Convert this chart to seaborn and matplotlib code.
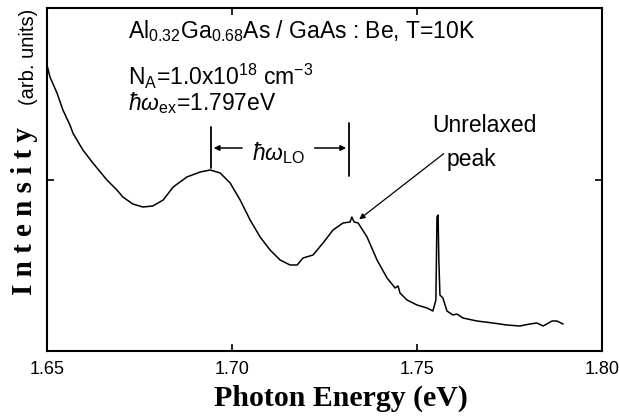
import matplotlib
matplotlib.use('Agg')
import matplotlib.pyplot as plt
import seaborn as sns
import pandas as pd

# Photon energy (eV) and PL intensity (arb. units)
energy = [1.6500, 1.6508, 1.6527, 1.6543, 1.6562, 1.6570, 1.6597, 1.6624, 1.6662, 1.6689,
          1.6705, 1.6732, 1.6759, 1.6786, 1.6814, 1.6841, 1.6878, 1.6914, 1.6941, 1.6968,
          1.6995, 1.7022, 1.7049, 1.7076, 1.7103, 1.7130, 1.7157, 1.7176, 1.7192, 1.7219,
          1.7246, 1.7273, 1.7300, 1.7319, 1.7324, 1.7330, 1.7341, 1.7365, 1.7392, 1.7419,
          1.7441, 1.7449, 1.7454, 1.7473, 1.7500, 1.7527, 1.7543, 1.7551, 1.7554, 1.7557,
          1.7559, 1.7562, 1.7570, 1.7581, 1.7597, 1.7608, 1.7624, 1.7662, 1.7705, 1.7743,
          1.7778, 1.7805, 1.7824, 1.7841, 1.7865, 1.7878, 1.7895]
intensity = [286, 274, 258, 241, 226, 218, 201, 188, 171, 161,
             154, 147, 144, 145, 151, 164, 174, 179, 181, 178,
             168, 151, 131, 114, 101, 91, 86, 86, 93, 96,
             108, 121, 128, 129, 134, 129, 128, 114, 91, 73,
             63, 65, 58, 51, 46, 43, 40, 51, 134, 136,
             91, 56, 53, 40, 36, 37, 33, 30, 28, 26,
             25, 27, 28, 25, 30, 30, 27]

xticks = [1.65, 1.70, 1.75, 1.80]
xticklabels = ['1.65', '1.70', '1.75', '1.80']
yticks = [171]

sns.set_theme(style='ticks')
plt.rcParams.update({
    'font.family': ['Liberation Sans', 'DejaVu Sans'],
    'mathtext.fontset': 'custom',
    'mathtext.rm': 'Liberation Sans',
    'mathtext.it': 'Liberation Sans:italic',
    'mathtext.bf': 'Liberation Sans:bold',
    'mathtext.fallback': 'stix',
    'text.color': 'black',
    'axes.labelcolor': 'black',
    'xtick.color': 'black',
    'ytick.color': 'black',
})

W, H = 619, 419
fig = plt.figure(figsize=(W / 100, H / 100), dpi=100)
fig.patch.set_facecolor('white')
ax = fig.add_axes([47 / W, 1 - 351 / H, (602 - 47) / W, (351 - 8) / H])
ax.set_facecolor('white')

df = pd.DataFrame({'E': energy, 'I': intensity})
sns.lineplot(data=df, x='E', y='I', ax=ax, color='black', lw=1.1,
             estimator=None, sort=False)

ax.set_xlim(1.65, 1.80)
ax.set_ylim(0, 343)
ax.set_xticks(xticks)
ax.set_xticklabels(xticklabels, fontsize=13)
ax.set_yticks(yticks)
ax.set_yticklabels([])
ax.tick_params(direction='in', top=True, right=True, length=5, width=1.2,
               color='black', pad=7, labelcolor='black')
for s in ax.spines.values():
    s.set_linewidth(1.5)
    s.set_color('black')
ax.set_xlabel('')
ax.set_ylabel('')
ax.grid(False)

fs = 16.5
ax.text(1.6719, 313, r'Al$_{0.32}$Ga$_{0.68}$As / GaAs : Be, T=10K', fontsize=fs, va='baseline', ha='left')
ax.text(1.6719, 266, r'N$_{\mathrm{A}}$=1.0x10$^{18}$ cm$^{-3}$', fontsize=fs, va='baseline', ha='left')
ax.text(1.6719, 241, r'$\hbar\omega_{\mathrm{ex}}$=1.797eV', fontsize=fs, va='baseline', ha='left')

# hbar omega_LO bracket
ax.plot([1.6943, 1.6943], [183, 224], color='black', lw=1.3)
ax.plot([1.7316, 1.7316], [175, 228], color='black', lw=1.3)
ax.annotate('', xy=(1.6943, 203), xytext=(1.7035, 203),
            arrowprops=dict(arrowstyle='-|>', color='black', lw=1.1, mutation_scale=8))
ax.annotate('', xy=(1.7316, 203), xytext=(1.7216, 203),
            arrowprops=dict(arrowstyle='-|>', color='black', lw=1.1, mutation_scale=8))
ax.text(1.7125, 191, r'$\hbar\omega_{\mathrm{LO}}$', fontsize=fs, va='baseline', ha='center')

ax.text(1.7541, 219, 'Unrelaxed', fontsize=fs, va='baseline', ha='left')
ax.text(1.7581, 185, 'peak', fontsize=fs, va='baseline', ha='left')
ax.annotate('', xy=(1.7338, 130), xytext=(1.7578, 199),
            arrowprops=dict(arrowstyle='-|>', color='black', lw=0.9, mutation_scale=8))

fig.text(341 / W, 1 - 398 / H, 'Photon Energy (eV)', fontsize=21.5, fontweight='bold',
         family='Liberation Serif', ha='center', va='center')
fig.text(25 / W, 1 - 211 / H, 'I n t e n s i t y', fontsize=21, fontweight='bold',
         family='Liberation Serif', ha='center', va='center', rotation=90)
fig.text(28 / W, 1 - 57 / H, '(arb. units)', fontsize=14.5,
         ha='center', va='center', rotation=90)

fig.savefig('out.png', dpi=100)
